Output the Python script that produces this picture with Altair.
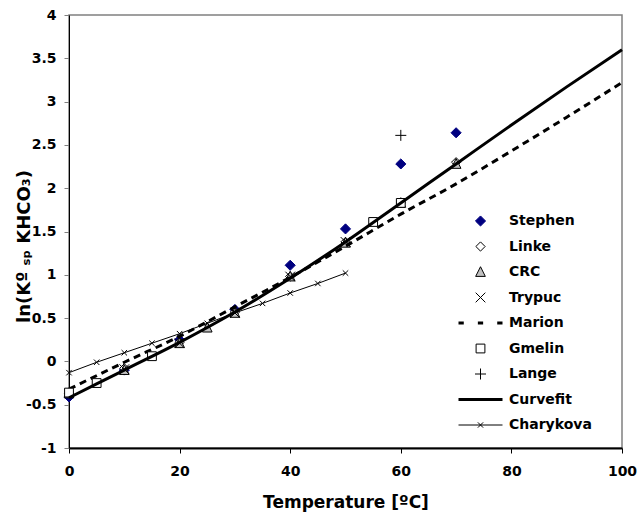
import altair as alt
import pandas as pd

# ---------------- data ----------------
series_order = ["Stephen", "Linke", "CRC", "Trypuc", "Marion",
                "Gmelin", "Lange", "Curvefit", "Charykova"]

stephen_t = [0, 10, 20, 30, 40, 50, 60, 70]
stephen_y = [-0.41, -0.10, 0.25, 0.60, 1.11, 1.53, 2.28, 2.64]

linke_t = [0, 10, 20, 30, 40, 50, 60, 70]
linke_y = [-0.37, -0.08, 0.22, 0.57, 0.98, 1.38, 1.83, 2.30]

crc_t = [0, 10, 20, 25, 30, 40, 50, 60, 70]
crc_y = [-0.37, -0.10, 0.21, 0.39, 0.56, 0.98, 1.37, 1.83, 2.28]

trypuc_t = [10, 20, 30, 40, 50]
trypuc_y = [-0.09, 0.21, 0.56, 0.98, 1.38]

gmelin_t = [0, 5, 15, 55, 60]
gmelin_y = [-0.36, -0.25, 0.06, 1.61, 1.83]

lange_t = [60]
lange_y = [2.61]

marion_t = [0, 10, 20, 30, 40, 50, 60, 70, 80, 90, 100]
marion_y = [-0.32, -0.01, 0.29, 0.63, 0.97, 1.33, 1.70, 2.05, 2.43, 2.82, 3.22]

curvefit_t = [0, 10, 20, 30, 40, 50, 60, 70, 80, 90, 100]
curvefit_y = [-0.42, -0.10, 0.22, 0.57, 0.96, 1.38, 1.83, 2.28, 2.73, 3.17, 3.60]

charykova_t = [0, 5, 10, 15, 20, 25, 30, 35, 40, 45, 50]
charykova_y = [-0.13, -0.01, 0.10, 0.21, 0.32, 0.44, 0.56, 0.67, 0.79, 0.90, 1.02]

x_ticks = [0, 20, 40, 60, 80, 100]
y_ticks = [-1, -0.5, 0, 0.5, 1, 1.5, 2, 2.5, 3, 3.5, 4]


def frame(name, t, v):
    return pd.DataFrame({"series": name, "t": t, "v": v})


pts_a = pd.concat([frame("Stephen", stephen_t, stephen_y),
                   frame("Linke", linke_t, linke_y),
                   frame("CRC", crc_t, crc_y),
                   frame("Trypuc", trypuc_t, trypuc_y)], ignore_index=True)
pts_b = pd.concat([frame("Gmelin", gmelin_t, gmelin_y),
                   frame("Lange", lange_t, lange_y)], ignore_index=True)
marion = frame("Marion", marion_t, marion_y)
curvefit = frame("Curvefit", curvefit_t, curvefit_y)
charykova = frame("Charykova", charykova_t, charykova_y)

# ---------------- styling ----------------
FONT = "DejaVu Sans"
SYM = 1936  # symbol area -> path unit = 22 px

shape_paths = [
    "M0,-0.23L0.23,0L0,0.23L-0.23,0Z",                       # Stephen
    "M0,-0.21L0.21,0L0,0.21L-0.21,0Z",                       # Linke
    "M0,-0.24L0.22,0.2L-0.22,0.2Z",                          # CRC
    "M-0.22,-0.22L0.22,0.22M-0.22,0.22L0.22,-0.22",          # Trypuc
    "M-1,-0.07H-0.76V0.07H-1Z M-0.12,-0.07H0.12V0.07H-0.12Z M0.76,-0.07H1V0.07H0.76Z",  # Marion
    "M-0.2,-0.2H0.2V0.2H-0.2Z",                              # Gmelin
    "M-0.25,0H0.25M0,-0.25V0.25",                            # Lange
    "M-1,-0.07H1V0.07H-1Z",                                  # Curvefit
    "M-1,0H1M-0.12,-0.12L0.12,0.12M-0.12,0.12L0.12,-0.12",   # Charykova
]
fill_range = ["#000080", "white", "#c0c0c0", "transparent", "black",
              "white", "transparent", "black", "transparent"]
stroke_range = ["#000080", "black", "black", "black", "transparent",
                "black", "black", "transparent", "black"]

legend = alt.Legend(orient="none", legendX=389, legendY=198, title=None,
                    labelFont=FONT, labelFontSize=14, labelFontWeight="bold",
                    labelColor="black", symbolSize=SYM, symbolStrokeWidth=1,
                    labelOffset=6, clipHeight=16, rowPadding=9.5, padding=0)

xscale = alt.Scale(domain=[0, 100], nice=False, zero=False)
yscale = alt.Scale(domain=[-1, 4], nice=False, zero=False)

xaxis = alt.Axis(values=x_ticks, grid=False, domainColor="black", domainWidth=2,
                 tickColor="black", tickSize=5, labelFont=FONT, labelFontSize=14,
                 labelFontWeight="bold", labelColor="black", labelPadding=11,
                 labelFlush=False, labelExpr="toString(datum.value)",
                 titleFont=FONT, titleFontSize=17, titleFontWeight="bold",
                 titleColor="black", titleY=54, titleBaseline="middle")
yaxis = alt.Axis(values=y_ticks, grid=False, domainColor="black", domainWidth=1,
                 tickColor="#808080", tickSize=5, labelFont=FONT, labelFontSize=14,
                 labelFontWeight="bold", labelColor="black", labelPadding=8,
                 labelExpr="toString(datum.value)",
                 titleFont=FONT, titleFontSize=18, titleFontWeight="bold",
                 titleColor="black", titleX=-45, titleY=231, titleAngle=270,
                 titleAlign="center", titleBaseline="middle")

X = alt.X("t:Q", scale=xscale, axis=xaxis, title="Temperature [ºC]")
Y = alt.Y("v:Q", scale=yscale, axis=yaxis, title="ln(Kº ₛₚ KHCO₃)")

shape_enc = alt.Shape("series:N", scale=alt.Scale(domain=series_order, range=shape_paths), legend=legend)
fill_enc = alt.Fill("series:N", scale=alt.Scale(domain=series_order, range=fill_range), legend=legend)
stroke_enc = alt.Stroke("series:N", scale=alt.Scale(domain=series_order, range=stroke_range), legend=legend)

points_a = alt.Chart(pts_a).mark_point(size=SYM, strokeWidth=1, opacity=1).encode(
    x=X, y=Y, shape=shape_enc, fill=fill_enc, stroke=stroke_enc)
points_b = alt.Chart(pts_b).mark_point(size=SYM, strokeWidth=1, opacity=1).encode(
    x=X, y=Y, shape=shape_enc, fill=fill_enc, stroke=stroke_enc)

marion_line = alt.Chart(marion).mark_line(color="black", strokeWidth=3, strokeDash=[7, 5],
                                          interpolate="monotone").encode(x=X, y=Y)
curve_line = alt.Chart(curvefit).mark_line(color="black", strokeWidth=3,
                                           interpolate="monotone").encode(x=X, y=Y)
chary_line = alt.Chart(charykova).mark_line(color="black", strokeWidth=1).encode(x=X, y=Y)
chary_pts = alt.Chart(charykova).mark_point(
    shape="M-1,-1L1,1M-1,1L1,-1", size=30, stroke="black", strokeWidth=1,
    fill="transparent", opacity=1).encode(x=X, y=Y)

chart = alt.layer(points_a, marion_line, points_b, curve_line, chary_line, chary_pts).properties(
    width=553, height=433,
    padding={"left": 69, "top": 15, "right": 16, "bottom": 67},
    autosize=alt.AutoSizeParams(type="none"),
    background="white",
).configure_view(stroke="#808080", strokeWidth=1.5)

chart.save("out.html", embed_options={"renderer": "svg", "actions": False})
